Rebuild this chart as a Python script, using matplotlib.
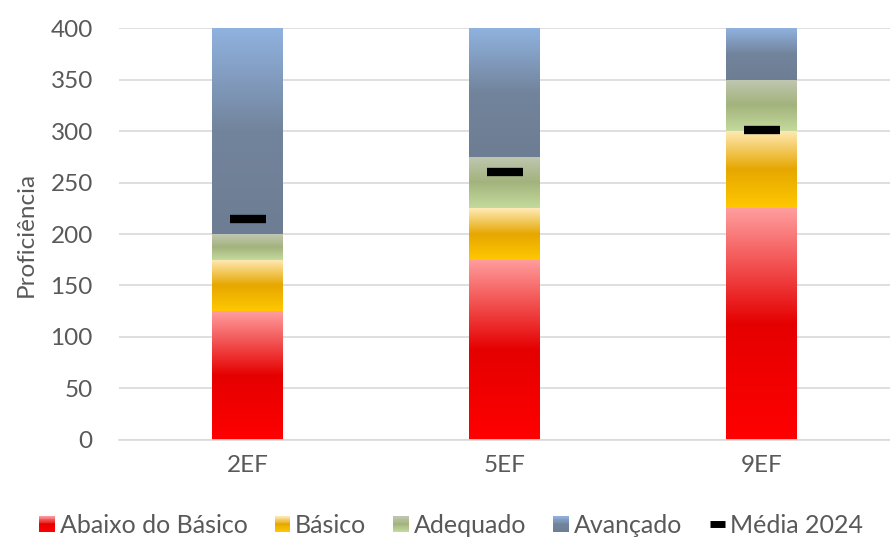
import numpy as np
import matplotlib
matplotlib.use("Agg")
import matplotlib.pyplot as plt
from matplotlib.colors import LinearSegmentedColormap
from matplotlib.legend_handler import HandlerBase
from matplotlib.patches import Rectangle
from matplotlib.lines import Line2D

plt.rcParams['font.family'] = ['Lato', 'DejaVu Sans']

categories = ['2EF', '5EF', '9EF']
abaixo = [125, 175, 225]
basico = [50, 50, 75]
adequado = [25, 50, 50]
avancado = [200, 125, 50]
media_2024 = [215, 260, 301]
series_names = ['Abaixo do Básico', 'Básico', 'Adequado', 'Avançado']
yticks = [0, 50, 100, 150, 200, 250, 300, 350, 400]

# gradient stops (bottom, middle, top) for each level
gradients = {
    'Abaixo do Básico': ['#FF0000', '#E50000', '#FF9E9E'],
    'Básico': ['#FFC800', '#E6A700', '#FFEBB8'],
    'Adequado': ['#C4DB9D', '#A3B37C', '#C0C7B2'],
    'Avançado': ['#6D7D93', '#72849C', '#90B2DF'],
}
cmaps = {k: LinearSegmentedColormap.from_list(k, list(zip([0, 0.5, 1], v)))
         for k, v in gradients.items()}

text_color = '#595959'
grid_color = '#D9D9D9'
fs = 17.5

fig = plt.figure(figsize=(8.9, 5.43), dpi=100)
ax = fig.add_axes([0.134, 0.19, 0.866, 0.758])

x = np.arange(len(categories))
width = 0.275
grad = np.linspace(0, 1, 256).reshape(-1, 1)

bottoms = np.zeros(len(categories))
for name, vals in zip(series_names, [abaixo, basico, adequado, avancado]):
    bars = ax.bar(x, vals, width=width, bottom=bottoms, color='none',
                  edgecolor='none', zorder=2)
    for bar in bars:
        bx, by = bar.get_x(), bar.get_y()
        bw, bh = bar.get_width(), bar.get_height()
        im = ax.imshow(grad, cmap=cmaps[name], origin='lower', aspect='auto',
                       extent=[bx, bx + bw, by, by + bh], zorder=2,
                       interpolation='bilinear')
        im.set_clip_path(bar)
    bottoms = bottoms + np.array(vals)

ax.plot(x, media_2024, linestyle='none', marker='_', markersize=26,
        markeredgewidth=6, color='black', zorder=4, solid_capstyle='round')

ax.set_xlim(-0.5, len(categories) - 0.5)
ax.set_ylim(0, 400)
ax.set_yticks(yticks)
ax.set_xticks(x)
ax.set_xticklabels(categories)
ax.tick_params(axis='both', length=0, labelsize=fs, colors=text_color)
ax.tick_params(axis='y', pad=19)
ax.tick_params(axis='x', pad=11)
ax.yaxis.grid(True, color=grid_color, linewidth=1.2, zorder=0)
ax.set_axisbelow(True)
for s in ['top', 'right', 'left']:
    ax.spines[s].set_visible(False)
ax.spines['bottom'].set_color(grid_color)
ax.spines['bottom'].set_linewidth(1.2)
ax.set_ylabel('Proficiência', fontsize=fs, color=text_color, labelpad=10)


class GradientHandler(HandlerBase):
    def __init__(self, cmap):
        super().__init__()
        self.cmap = cmap

    def create_artists(self, legend, orig_handle, xdescent, ydescent,
                       width, height, fontsize, trans):
        n = 20
        size = height * 0.85
        x0 = -xdescent + (width - size)
        y0 = -ydescent + (height - size) / 2
        arts = []
        for i in range(n):
            frac = (i + 0.5) / n
            r = Rectangle((x0, y0 + size * i / n), size, size / n + 0.01,
                          facecolor=self.cmap(frac), edgecolor='none',
                          transform=trans)
            arts.append(r)
        return arts


class DashHandler(HandlerBase):
    def create_artists(self, legend, orig_handle, xdescent, ydescent,
                       width, height, fontsize, trans):
        yc = -ydescent + height / 2
        line = Line2D([-xdescent + width * 0.2, -xdescent + width], [yc, yc],
                      color='black', linewidth=5, solid_capstyle='butt',
                      transform=trans)
        return [line]


handles = [Rectangle((0, 0), 1, 1) for _ in series_names]
hmap = {h: GradientHandler(cmaps[n]) for h, n in zip(handles, series_names)}
media_handle = Line2D([], [], color='black')
hmap[media_handle] = DashHandler()
fig.legend(handles + [media_handle], series_names + ['Média 2024'],
           handler_map=hmap, loc='lower center', bbox_to_anchor=(0.505, -0.03),
           ncol=5, frameon=False, fontsize=fs + 0.5, labelcolor=text_color,
           handlelength=0.75, handleheight=0.75, handletextpad=0.2,
           columnspacing=0.95)

fig.savefig('out.png', dpi=100)
